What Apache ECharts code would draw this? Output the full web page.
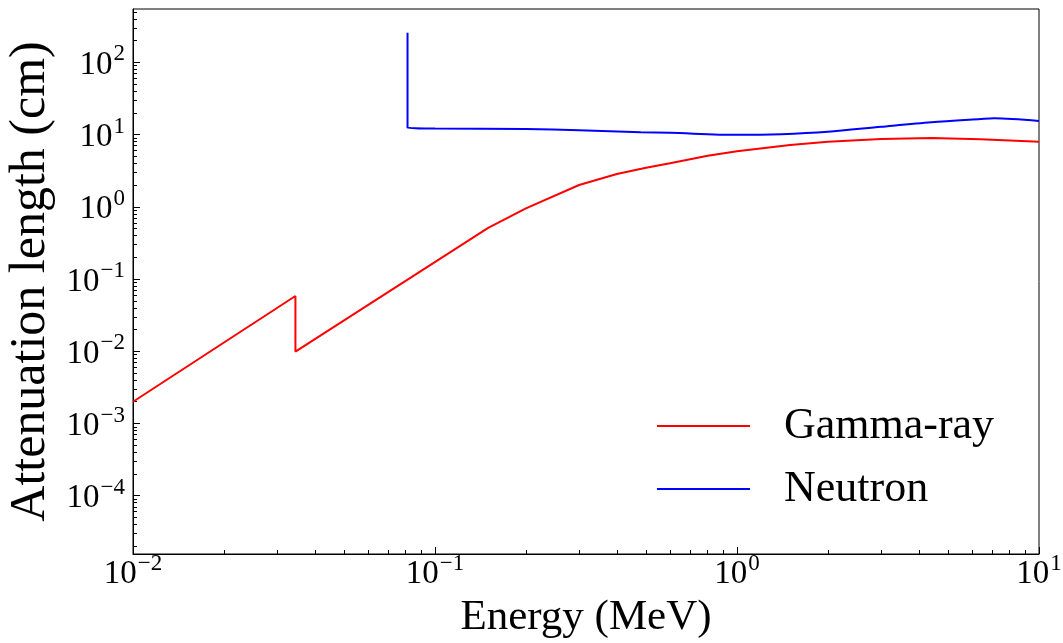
<!DOCTYPE html>
<html>
<head>
<meta charset="utf-8">
<script src="https://cdn.jsdelivr.net/npm/echarts@6/dist/echarts.min.js"></script>
<style>
html,body{margin:0;padding:0;background:#fff;}
#chart{width:1063px;height:643px;}
</style>
</head>
<body>
<div id="chart"></div>
<script>
// ---- data ----
const gammaEnergy = [0.01, 0.0345, 0.0345, 0.15, 0.2, 0.3, 0.4, 0.5, 0.6, 0.8, 1.0, 1.5, 2.0, 3.0, 4.4, 6.4, 10];
const gammaLength = [0.0020, 0.0582, 0.0099, 0.51, 0.95, 2.0, 2.85, 3.46, 4.0, 5.07, 5.89, 7.17, 7.96, 8.68, 8.97, 8.6, 7.96];
const neutronEnergy = [0.0811, 0.0811, 0.1, 0.2, 0.3, 0.48, 0.6, 1.0, 1.4, 2.0, 3.0, 4.4, 6.4, 7.1, 10];
const neutronLength = [257, 12.45, 12.1, 11.9, 11.5, 10.75, 10.55, 9.9, 10.1, 10.9, 12.8, 14.8, 16.4, 16.8, 15.4];
const seriesNames = ['Gamma-ray', 'Neutron'];
const xMajorTicks = [0.01, 0.1, 1, 10];
const yMajorTicks = [1e-4, 1e-3, 1e-2, 1e-1, 1, 10, 100];
const xLabelText = 'Energy (MeV)';
const yLabelText = 'Attenuation length (cm)';

const xMin = 0.01, xMax = 10;
const yMin = Math.pow(10, -4.807), yMax = Math.pow(10, 2.738);

function minorTicks(lo, hi) {
  const out = [];
  for (let e = -6; e <= 3; e++) {
    for (let m = 2; m <= 9; m++) {
      const v = m * Math.pow(10, e);
      if (v > lo && v < hi) out.push(v);
    }
  }
  return out;
}
const xMinor = minorTicks(xMin, xMax);
const yMinor = minorTicks(yMin, yMax);

const FONT = '"Liberation Serif", "DejaVu Serif", serif';
function powLabel(v) {
  const e = Math.round(Math.log10(v));
  const s = e < 0 ? '\u2212' + Math.abs(e) : String(e);
  return '{b|10}{s|' + s + '}';
}
const rich = {
  b: { fontSize: 33, fontFamily: FONT, color: '#000', verticalAlign: 'bottom' },
  s: { fontSize: 23, fontFamily: FONT, color: '#000', verticalAlign: 'top', padding: [0, 0, 16, 1] }
};

const chart = echarts.init(document.getElementById('chart'), null, { renderer: 'canvas' });
const option = {
  animation: false,
  backgroundColor: '#fff',
  grid: { left: 133, right: 24, top: 9, bottom: 89, show: true, borderColor: '#000', borderWidth: 1, backgroundColor: 'transparent', containLabel: false, outerBoundsMode: 'none' },
  legend: {
    data: seriesNames,
    orient: 'vertical',
    left: 657, top: 404,
    padding: 0,
    icon: 'rect',
    itemWidth: 93, itemHeight: 2, itemGap: 19,
    textStyle: { fontFamily: FONT, fontSize: 44, color: '#000', lineHeight: 44, padding: [0, 0, 0, 29] }
  },
  xAxis: [
    {
      type: 'log', min: xMin, max: xMax, position: 'bottom',
      name: xLabelText, nameLocation: 'middle', nameGap: 42,
      nameTextStyle: { fontFamily: FONT, fontSize: 43, color: '#000' },
      axisLine: { show: true, lineStyle: { color: '#000', width: 1 } },
      axisTick: { show: true, inside: true, length: 7, lineStyle: { color: '#000', width: 1 }, customValues: xMajorTicks },
      axisLabel: { show: true, margin: -2, customValues: xMajorTicks, formatter: powLabel, rich: rich },
      splitLine: { show: false }
    },
    {
      type: 'log', min: xMin, max: xMax, position: 'bottom',
      axisLine: { show: false },
      axisTick: { show: true, inside: true, length: 4, lineStyle: { color: '#000', width: 1 }, customValues: xMinor },
      axisLabel: { show: false },
      splitLine: { show: false }
    }
  ],
  yAxis: [
    {
      type: 'log', min: yMin, max: yMax, position: 'left',
      name: yLabelText, nameLocation: 'middle', nameGap: 76,
      nameTextStyle: { fontFamily: FONT, fontSize: 50, color: '#000' },
      axisLine: { show: true, lineStyle: { color: '#000', width: 1 } },
      axisTick: { show: true, inside: true, length: 7, lineStyle: { color: '#000', width: 1 }, customValues: yMajorTicks },
      axisLabel: { show: true, margin: 8, customValues: yMajorTicks, formatter: powLabel, rich: rich },
      splitLine: { show: false }
    },
    {
      type: 'log', min: yMin, max: yMax, position: 'left',
      axisLine: { show: false },
      axisTick: { show: true, inside: true, length: 4, lineStyle: { color: '#000', width: 1 }, customValues: yMinor },
      axisLabel: { show: false },
      splitLine: { show: false }
    }
  ],
  series: [
    {
      name: seriesNames[0], type: 'line', xAxisIndex: 0, yAxisIndex: 0,
      data: gammaEnergy.map((x, i) => [x, gammaLength[i]]),
      symbol: 'none', smooth: false,
      lineStyle: { color: '#ff0000', width: 2 }, itemStyle: { color: '#ff0000' }
    },
    {
      name: seriesNames[1], type: 'line', xAxisIndex: 0, yAxisIndex: 0,
      data: neutronEnergy.map((x, i) => [x, neutronLength[i]]),
      symbol: 'none', smooth: 0.3,
      lineStyle: { color: '#0000ff', width: 2 }, itemStyle: { color: '#0000ff' }
    }
  ]
};
chart.setOption(option);
</script>
</body>
</html>
